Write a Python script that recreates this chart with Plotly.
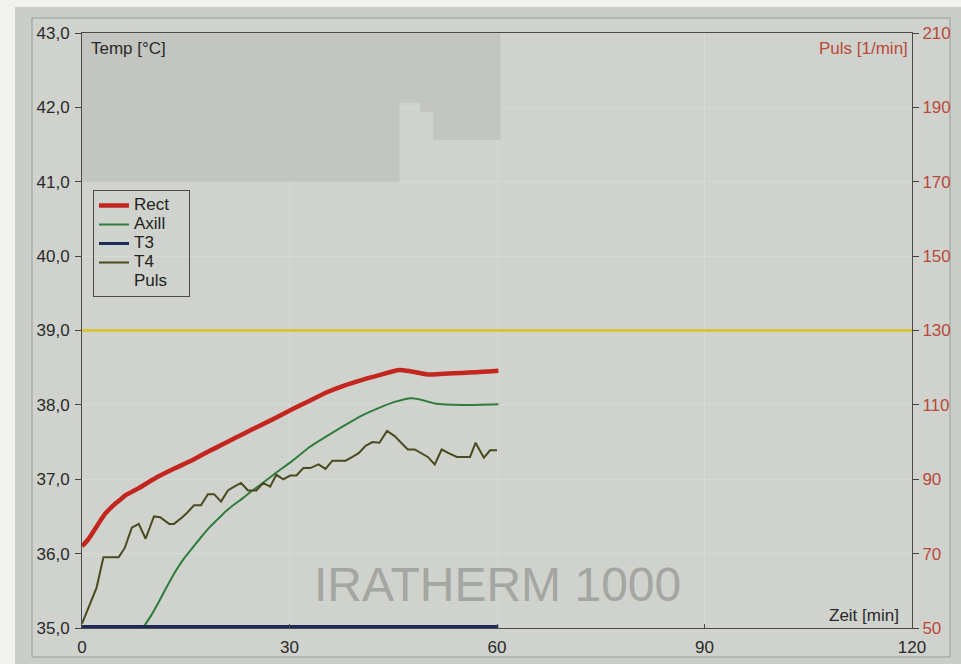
import plotly.graph_objects as go

# Time axis (minutes) for the temperature channels
t_rect = [0, 0.8, 1.6, 2.5, 3.3, 4.1, 4.8, 5.6, 6.2, 7.2, 8.2, 9.6, 11.1, 13.5, 16, 18.4, 20.8, 23.3,
          25.7, 28.1, 30.6, 33, 35.4, 37.9, 40.3, 43, 45.9, 47.6, 50, 52.4, 54.9, 57, 58.8, 60.2]
rect = [36.10, 36.18, 36.29, 36.42, 36.53, 36.61, 36.67, 36.73, 36.78, 36.83, 36.88, 36.96, 37.04,
        37.15, 37.26, 37.38, 37.49, 37.61, 37.72, 37.83, 37.95, 38.06, 38.17, 38.26, 38.33, 38.40,
        38.47, 38.45, 38.41, 38.42, 38.43, 38.44, 38.45, 38.46]

t_axill = [8.8, 10, 11.1, 12.3, 13.5, 14.7, 16, 17.2, 18.4, 19.6, 20.8, 22, 23.3, 24.5, 25.7, 28.1,
           30.6, 33, 35.4, 37.9, 40.3, 42.7, 45.2, 47.6, 49, 51, 54.9, 60.2]
axill = [35.0, 35.17, 35.35, 35.56, 35.76, 35.93, 36.08, 36.22, 36.35, 36.46, 36.57, 36.66, 36.75,
         36.84, 36.92, 37.09, 37.26, 37.44, 37.58, 37.72, 37.85, 37.95, 38.04, 38.09, 38.07, 38.02,
         38.00, 38.01]

t_t3 = [0, 60.2]
t3 = [35.02, 35.02]

t_t4 = [0, 1.1, 2.1, 3.1, 5.3, 6.2, 7.2, 8.2, 9.2, 10.4, 11.3, 12.6, 13.3, 14.5, 15.2, 16.2, 17.2,
        18.2, 19.1, 20.1, 21.1, 22, 23, 24, 25.2, 26.2, 27.2, 28.1, 29.1, 30.1, 31, 32, 33, 34.2,
        35.2, 36.2, 37.1, 38.1, 39.1, 40, 41, 42, 43, 44.1, 45.2, 46.1, 47.1, 48.1, 49, 50, 51,
        52, 53, 54.2, 55.1, 56.1, 56.9, 58.1, 59, 60]
t4 = [35.06, 35.31, 35.54, 35.95, 35.95, 36.08, 36.35, 36.40, 36.20, 36.50, 36.49, 36.40, 36.40,
      36.49, 36.55, 36.65, 36.65, 36.80, 36.80, 36.70, 36.85, 36.90, 36.95, 36.85, 36.85, 36.95,
      36.90, 37.06, 37.00, 37.05, 37.05, 37.15, 37.15, 37.20, 37.14, 37.25, 37.25, 37.25, 37.30,
      37.35, 37.45, 37.50, 37.49, 37.65, 37.58, 37.49, 37.40, 37.40, 37.35, 37.30, 37.20, 37.40,
      37.35, 37.30, 37.30, 37.30, 37.49, 37.29, 37.39, 37.39]

# Alarm limit line
t_limit = [0, 120]
limit = [39.0, 39.0]

# Shaded session window (upper edge 43 °C, lower edge stepped)
t_window = [0, 45.9, 48.9, 50.8, 60.5]
window_low = [41.0, 42.06, 41.94, 41.56, 41.56]
window_high = [43.0, 43.0, 43.0, 43.0, 43.0]

temp_ticks = [35, 36, 37, 38, 39, 40, 41, 42, 43]
puls_ticks = [50, 70, 90, 110, 130, 150, 170, 190, 210]
time_ticks = [0, 30, 60, 90, 120]

FONT = "Liberation Sans, Arial, sans-serif"
DARK = "#2a2a2a"
PULS_RED = "#b84a3a"
PLOT_BG = "#d3d5d0"
L, R, T, B = 82, 912, 33, 628


def px_x(p):
    return (p - L) / (R - L)


def px_y(q):
    return (B - q) / (B - T)


def leg(name, pad=0):
    return f'<span style="font-size:17px">{name}{"&nbsp;" * pad}</span>'


fig = go.Figure()

fig.add_trace(go.Scatter(x=[t_window[0], t_window[-1]], y=[window_high[0], window_high[-1]],
                         mode="lines", line=dict(width=0), showlegend=False, hoverinfo="skip"))
fig.add_trace(go.Scatter(x=t_window, y=window_low, mode="lines", line=dict(width=0, shape="hv"),
                         fill="tonexty", fillcolor="#c3c5c0", showlegend=False, hoverinfo="skip"))

fig.add_trace(go.Scatter(x=t_limit, y=limit, mode="lines", line=dict(color="#dcc21c", width=2.5),
                         showlegend=False))

fig.add_trace(go.Scatter(x=t_rect, y=rect, name=leg("Rect", 3), mode="lines",
                         line=dict(color="#c2261f", width=4.5, shape="spline", smoothing=0.6)))
fig.add_trace(go.Scatter(x=t_axill, y=axill, name=leg("Axill"), mode="lines",
                         line=dict(color="#2f7d3c", width=2, shape="spline", smoothing=0.6)))
fig.add_trace(go.Scatter(x=t_t3, y=t3, name=leg("T3"), mode="lines",
                         line=dict(color="#1c2a5a", width=3)))
fig.add_trace(go.Scatter(x=t_t4, y=t4, name=leg("T4"), mode="lines",
                         line=dict(color="#4b4a1e", width=2)))
fig.add_trace(go.Scatter(x=[None], y=[None], name=leg("Puls"), mode="lines",
                         line=dict(color="rgba(0,0,0,0)", width=2), yaxis="y2"))

fig.update_layout(
    width=961, height=664,
    margin=dict(l=L, r=961 - R, t=T, b=664 - B, autoexpand=False),
    paper_bgcolor="#cbcdc8",
    plot_bgcolor=PLOT_BG,
    separators=", ",
    font=dict(family=FONT, size=17, color=DARK),
    showlegend=True,
    legend=dict(x=px_x(93), y=px_y(190), xanchor="left", yanchor="top",
                traceorder="normal",
                bgcolor="rgba(0,0,0,0)", bordercolor="#4a4a4a", borderwidth=1,
                font=dict(size=12, color="#222222", family=FONT),
                tracegroupgap=0, itemclick=False),
    xaxis=dict(range=[0, 120], tickvals=time_ticks, ticks="inside", ticklen=4, automargin=False,
               tickcolor="#444", showline=True, linecolor="#4a4a4a", linewidth=1, mirror=True,
               showgrid=True, gridcolor="#d7d9d4", gridwidth=1, zeroline=False,
               ticklabelstandoff=4, tickfont=dict(size=17, color=DARK)),
    yaxis=dict(range=[35, 43], tickvals=temp_ticks, tickformat=".1f", ticks="outside", ticklen=6,
               tickcolor="#444", showline=True, linecolor="#4a4a4a", linewidth=1, automargin=False,
               showgrid=True, gridcolor="#d7d9d4", gridwidth=1, zeroline=False,
               ticklabelstandoff=2, tickfont=dict(size=17, color=DARK)),
    yaxis2=dict(range=[50, 210], tickvals=puls_ticks, overlaying="y", side="right",
                ticks="outside", ticklen=6, tickcolor="#444", showline=True, automargin=False,
                linecolor="#4a4a4a", linewidth=1, showgrid=False, zeroline=False,
                tickfont=dict(size=17, color=PULS_RED)),
    annotations=[
        dict(text="Temp [°C]", xref="paper", yref="paper", x=px_x(89), y=px_y(48),
             xanchor="left", yanchor="middle", showarrow=False,
             font=dict(size=17, color=DARK, family=FONT)),
        dict(text="Puls [1/min]", xref="paper", yref="paper", x=px_x(910), y=px_y(48),
             xanchor="right", yanchor="middle", showarrow=False,
             font=dict(size=17, color=PULS_RED, family=FONT)),
        dict(text="Zeit [min]", xref="paper", yref="paper", x=px_x(901), y=px_y(615),
             xanchor="right", yanchor="middle", showarrow=False,
             font=dict(size=17, color=DARK, family=FONT)),
        dict(text="IRATHERM 1000", xref="x", yref="y", x=60, y=35.58,
             xanchor="center", yanchor="middle", showarrow=False,
             font=dict(size=48, color="#a4a6a1", family=FONT)),
    ],
    shapes=[
        # screen frame around the chart panel
        dict(type="rect", xref="paper", yref="paper", layer="below",
             x0=px_x(32), x1=px_x(950), y0=px_y(657), y1=px_y(18),
             line=dict(color="#9a9c97", width=1), fillcolor="#d0d2cd"),
        # light border outside the panel
        dict(type="rect", xref="paper", yref="paper", layer="below",
             x0=px_x(-5), x1=px_x(15), y0=px_y(670), y1=px_y(-5),
             line=dict(width=0), fillcolor="#f1f1f0"),
        dict(type="rect", xref="paper", yref="paper", layer="below",
             x0=px_x(-5), x1=px_x(966), y0=px_y(7), y1=px_y(-5),
             line=dict(width=0), fillcolor="#f1f1f0"),
    ],
)

fig.write_html("out.html")
